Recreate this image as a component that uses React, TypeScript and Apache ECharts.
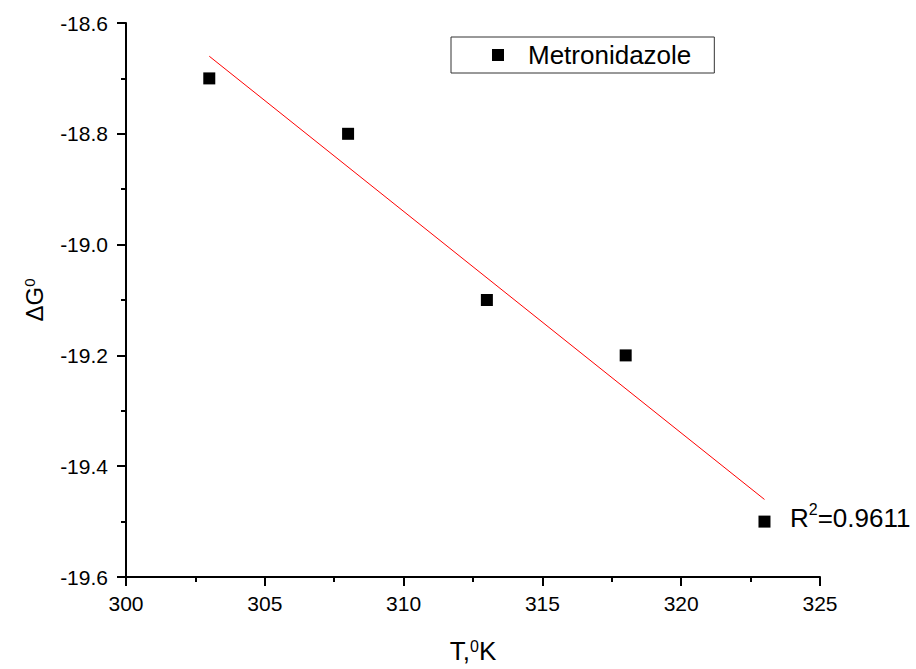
import React, { useEffect, useRef } from "react";
import * as echarts from "echarts";

const temperatures = [303, 308, 313, 318, 323];
const deltaG = [-18.7, -18.8, -19.1, -19.2, -19.5];
const fitT = [303, 323];
const fitG = [-18.66, -19.46];
const seriesName = "Metronidazole";
const rSquaredLabel = "0.9611";
const xRange = { min: 300, max: 325, interval: 5 };
const yRange = { min: -19.6, max: -18.6, interval: 0.2 };

const FONT = "'Liberation Sans', Arial, sans-serif";

export default function App() {
  const ref = useRef<HTMLDivElement>(null);
  useEffect(() => {
    if (!ref.current) return;
    const chart = echarts.init(ref.current, null, { renderer: "svg" });
    const axisCommon = {
      axisLine: { show: true, lineStyle: { color: "#000", width: 2 } },
      axisTick: { show: true, length: 9, lineStyle: { color: "#000", width: 2 } },
      minorTick: { show: true, splitNumber: 2, length: 5, lineStyle: { color: "#000", width: 2 } },
      splitLine: { show: false },
      minorSplitLine: { show: false },
    };
    chart.setOption({
      animation: false,
      backgroundColor: "#fff",
      textStyle: { fontFamily: FONT },
      grid: { left: 126, right: 96, top: 23, bottom: 86, containLabel: false },
      legend: {
        data: [seriesName],
        left: 451,
        top: 37,
        orient: "horizontal",
        borderColor: "#333",
        borderWidth: 1,
        borderRadius: 0,
        padding: [5, 23, 5, 41],
        itemWidth: 12,
        itemHeight: 12,
        itemStyle: { color: "#000", opacity: 1 },
        textStyle: { fontSize: 26, color: "#000", fontFamily: FONT, padding: [0, 0, 0, 19] },
      },
      xAxis: {
        type: "value",
        min: xRange.min,
        max: xRange.max,
        interval: xRange.interval,
        ...axisCommon,
        axisLabel: { fontSize: 21, color: "#000", margin: 16, fontFamily: FONT },
        name: "{m|T,}{s|0}{m|K}",
        nameLocation: "middle",
        nameGap: 61,
        nameTextStyle: {
          rich: {
            m: { fontSize: 26, color: "#000", fontFamily: FONT },
            s: { fontSize: 16, color: "#000", fontFamily: FONT, verticalAlign: "top" },
          },
        },
      },
      yAxis: {
        type: "value",
        min: yRange.min,
        max: yRange.max,
        interval: yRange.interval,
        ...axisCommon,
        axisLabel: {
          fontSize: 21,
          color: "#000",
          margin: 18,
          fontFamily: FONT,
          formatter: (v: number) => v.toFixed(1),
        },
        name: "{m|ΔG}{s|0}",
        nameLocation: "middle",
        nameGap: 80,
        nameTextStyle: {
          rich: {
            m: { fontSize: 24, color: "#000", fontFamily: FONT },
            s: { fontSize: 15, color: "#000", fontFamily: FONT, verticalAlign: "top" },
          },
        },
      },
      series: [
        {
          name: seriesName,
          type: "scatter",
          symbol: "rect",
          symbolSize: 12,
          itemStyle: { color: "#000", opacity: 1 },
          data: temperatures.map((t, i) => [t, deltaG[i]]),
        },
        {
          name: "fit",
          type: "line",
          showSymbol: false,
          symbol: "none",
          lineStyle: { color: "#ff0000", width: 1 },
          data: fitT.map((t, i) => [t, fitG[i]]),
        },
      ],
      graphic: [
        {
          type: "text",
          left: 790,
          top: 501,
          style: {
            text: "{m|R}{s|2}{m|=" + rSquaredLabel + "}",
            rich: {
              m: { fontSize: 26, fill: "#000", fontFamily: FONT, lineHeight: 30, verticalAlign: "bottom" },
              s: { fontSize: 16, fill: "#000", fontFamily: FONT, verticalAlign: "top" },
            },
          },
        },
      ],
    });
    return () => chart.dispose();
  }, []);
  return (
    <div
      ref={ref}
      style={{ position: "fixed", left: 0, top: 0, width: 916, height: 669, background: "#fff" }}
    />
  );
}
